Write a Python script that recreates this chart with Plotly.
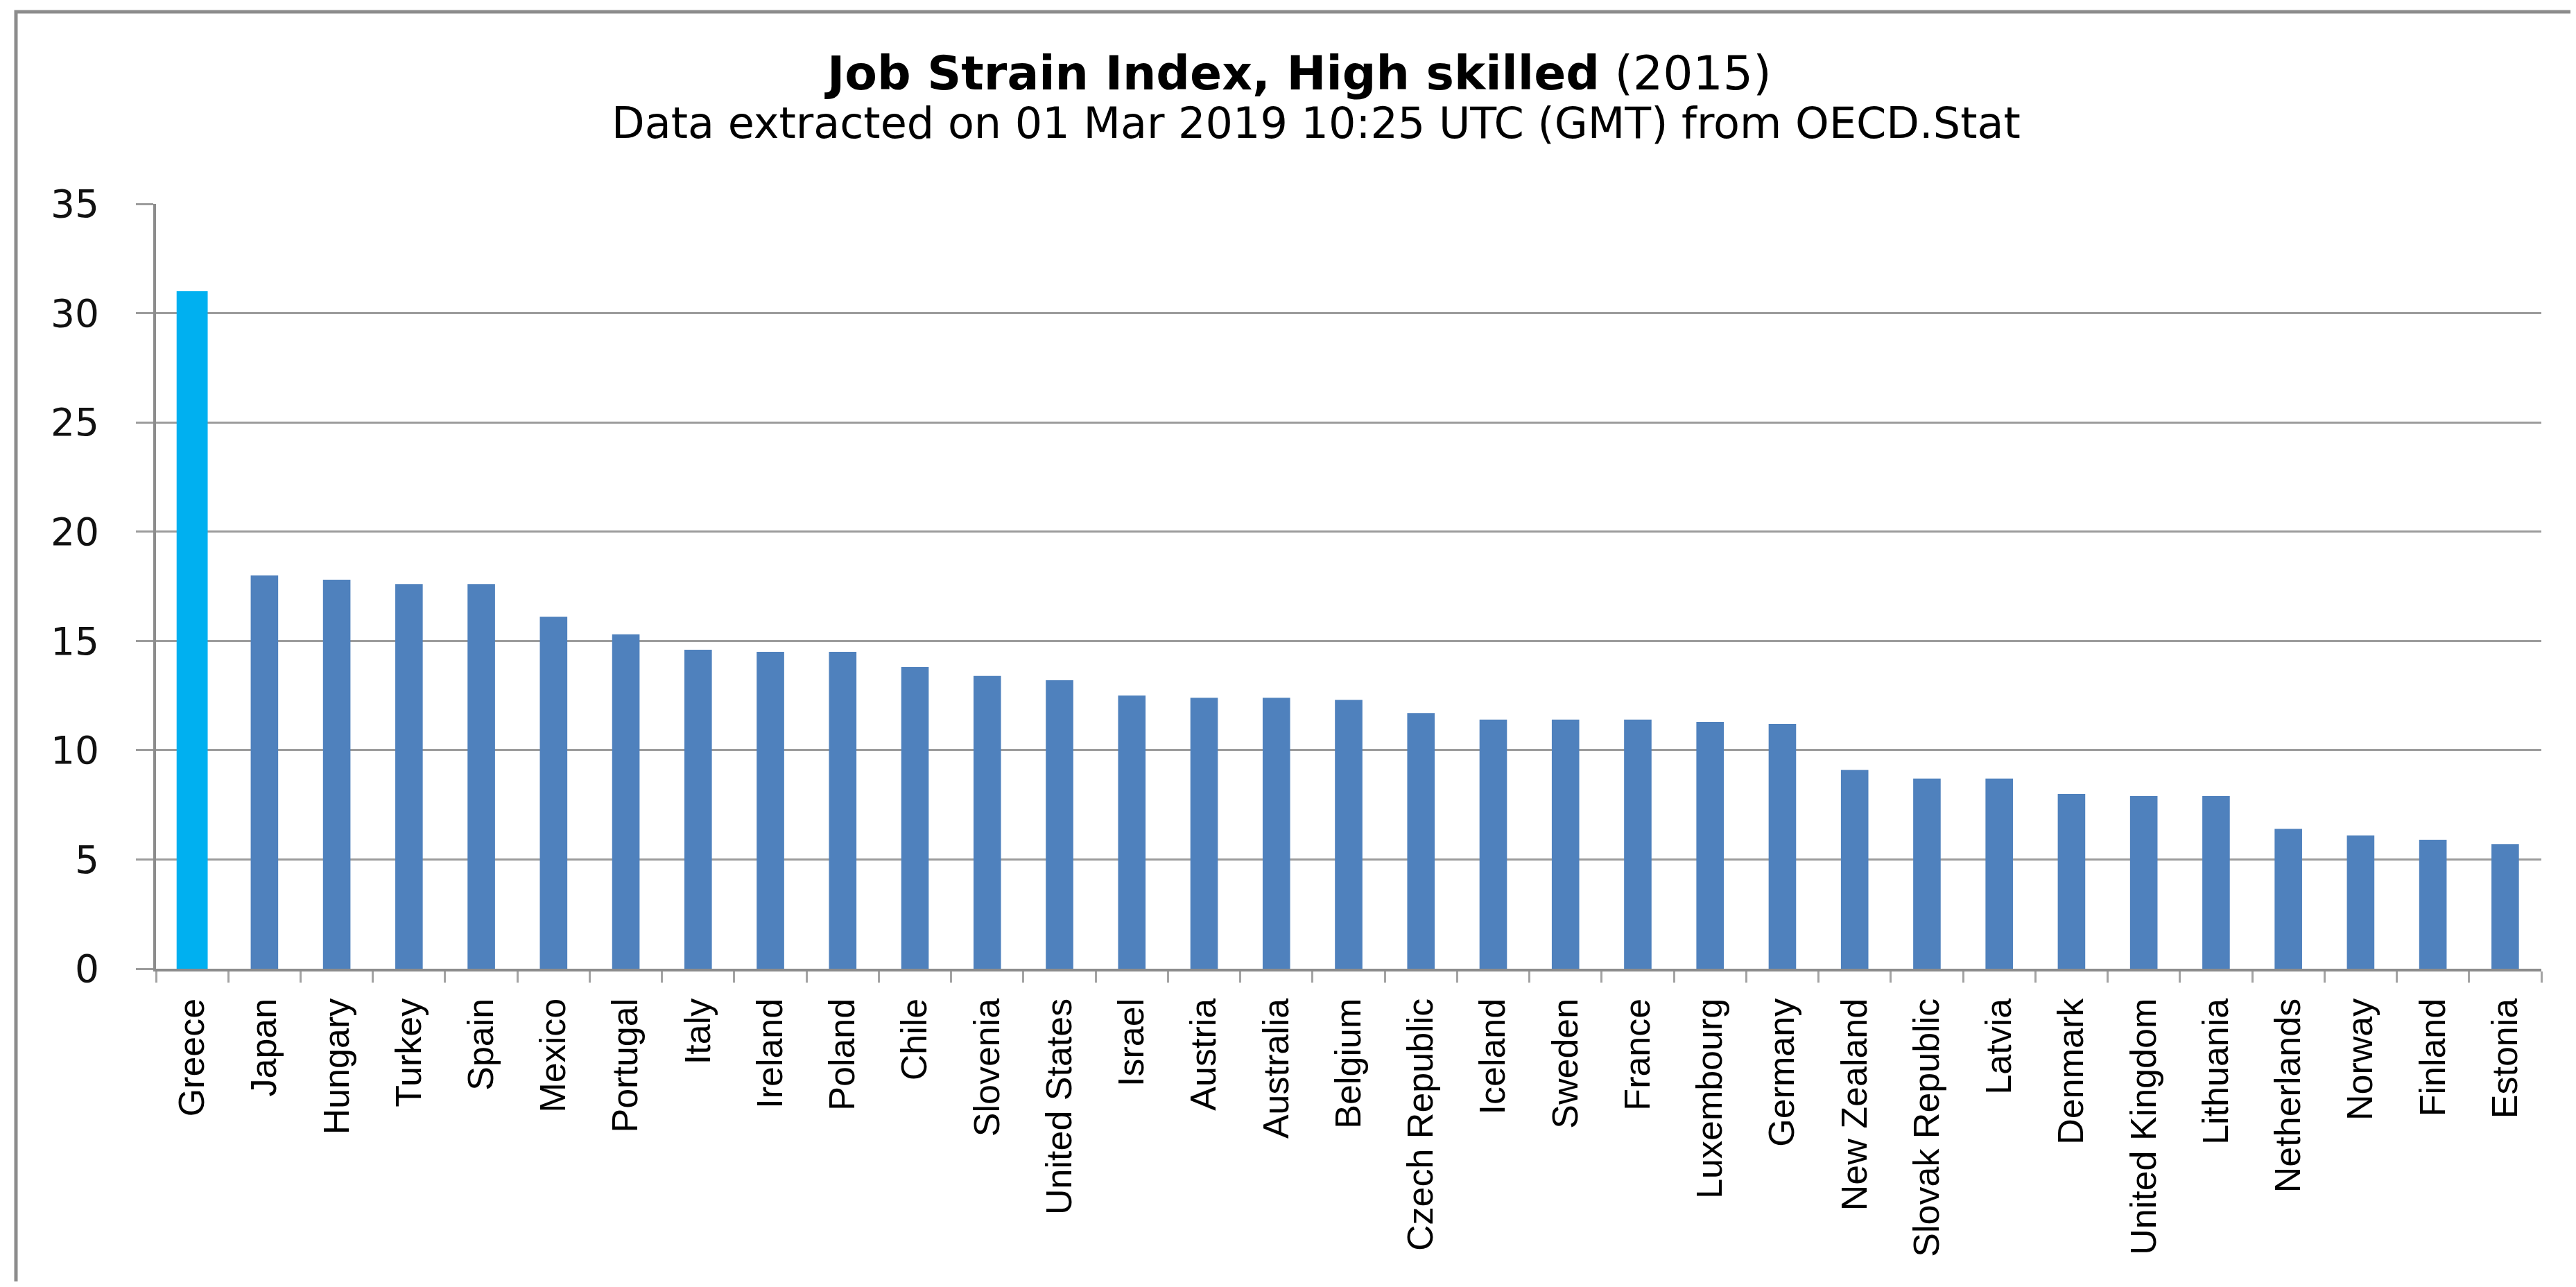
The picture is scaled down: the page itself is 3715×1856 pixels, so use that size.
import plotly.graph_objects as go

countries = ["Greece", "Japan", "Hungary", "Turkey", "Spain", "Mexico", "Portugal", "Italy",
             "Ireland", "Poland", "Chile", "Slovenia", "United States", "Israel", "Austria",
             "Australia", "Belgium", "Czech Republic", "Iceland", "Sweden", "France",
             "Luxembourg", "Germany", "New Zealand", "Slovak Republic", "Latvia", "Denmark",
             "United Kingdom", "Lithuania", "Netherlands", "Norway", "Finland", "Estonia"]
values = [31.0, 18.0, 17.8, 17.6, 17.6, 16.1, 15.3, 14.6,
          14.5, 14.5, 13.8, 13.4, 13.2, 12.5, 12.4,
          12.4, 12.3, 11.7, 11.4, 11.4, 11.4,
          11.3, 11.2, 9.1, 8.7, 8.7, 8.0,
          7.9, 7.9, 6.4, 6.1, 5.9, 5.7]
highlight = "Greece"
y_ticks = [0, 5, 10, 15, 20, 25, 30, 35]

# page (screenshot) geometry; the figure div sits at an 8px body offset
OFF = 8
PW, PH = 3715, 1856
W, H = PW - 2 * OFF, PH - 2 * OFF
plot_left, plot_right, plot_top, plot_bottom = 225, 3665, 294, 1397
L = plot_left - OFF
T = plot_top - OFF
R = W - (plot_right - OFF)
B = H - (plot_bottom - OFF)
pw, ph = plot_right - plot_left, plot_bottom - plot_top

def px(x):
    return (x - plot_left) / pw

def py(y):
    return (plot_bottom - y) / ph

colors = ["#00B0F0" if c == highlight else "#4F81BD" for c in countries]
widths = [0.43 if c == highlight else 0.38 for c in countries]

fig = go.Figure(go.Bar(x=countries, y=values, marker=dict(color=colors, line=dict(width=0)),
                       width=widths))

fig.update_layout(
    width=W, height=H,
    margin=dict(l=L, r=R, t=T, b=B, autoexpand=False),
    paper_bgcolor="white", plot_bgcolor="white",
    showlegend=False,
    bargap=0.6,
)
fig.update_yaxes(
    range=[0, 35], tickvals=y_ticks, ticktext=[str(v) for v in y_ticks],
    showgrid=True, gridcolor="#9C9C9C", gridwidth=3,
    showline=True, linecolor="#8C8C8C", linewidth=4,
    ticks="outside", ticklen=25, tickwidth=3, tickcolor="#9C9C9C",
    tickfont=dict(family="DejaVu Sans", size=55, color="#111111"),
    ticklabelstandoff=42, zeroline=False, automargin=False,
)
fig.update_xaxes(
    type="category", tickangle=-90,
    showline=True, linecolor="#8C8C8C", linewidth=4,
    ticks="outside", ticklen=16, tickwidth=3, tickcolor="#A3A3A3",
    tickson="boundaries",
    tickfont=dict(family="Liberation Sans", size=52, color="#000000"),
    ticklabelstandoff=18, showgrid=False, automargin=False,
)

fig.add_annotation(x=px(1872), y=py(105), xref="paper", yref="paper",
                   text="<b>Job Strain Index, High skilled</b> (2015)", showarrow=False,
                   xanchor="center", yanchor="middle",
                   font=dict(family="DejaVu Sans", size=68, color="#000000"))
fig.add_annotation(x=px(1898), y=py(178), xref="paper", yref="paper",
                   text="Data extracted on 01 Mar 2019 10:25 UTC (GMT) from OECD.Stat", showarrow=False,
                   xanchor="center", yanchor="middle",
                   font=dict(family="DejaVu Sans", size=62, color="#000000"))

fig.add_shape(type="rect", xref="paper", yref="paper",
              x0=px(23), y0=py(1950), x1=px(3800), y1=py(17),
              line=dict(color="#8C8C8C", width=5), fillcolor="rgba(0,0,0,0)", layer="below")

fig.write_html("out.html")
